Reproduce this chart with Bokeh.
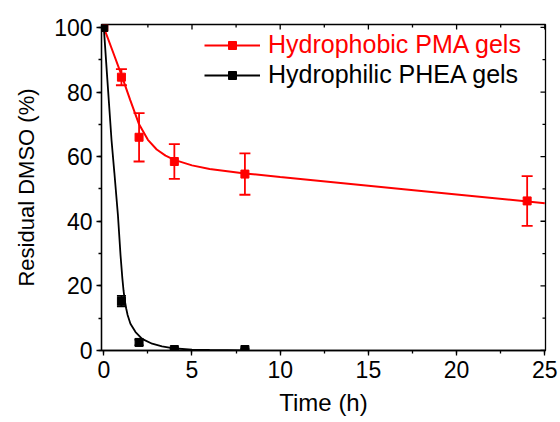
import math
from bokeh.plotting import figure
from bokeh.models import (Range1d, SingleIntervalTicker, Whisker, TeeHead,
                          ColumnDataSource, Legend, LegendItem)
from bokeh.embed import file_html
from bokeh.resources import INLINE

# ---- data ----
pma_time = [0, 1, 2, 4, 8, 24]
pma_vals = [100, 84.6, 66.0, 58.5, 54.6, 46.3]
pma_err = [0, 2.5, 7.5, 5.4, 6.4, 7.7]

phea_time = [0, 1, 2, 4, 8]
phea_vals = [100, 15.3, 2.5, 0.3, 0.3]
phea_err = [0, 1.6, 0.9, 0.3, 0.3]

pma_fit_t = [0, 0.5, 1, 1.5, 2, 2.5, 3, 3.5, 4, 5, 6, 8, 10, 15, 20, 25]
pma_fit_v = [100, 92.7, 85.3, 77.5, 70.0, 65.2, 62.2, 60.3, 59.0, 57.3, 56.2, 54.8, 53.7, 51.0, 48.3, 45.6]

phea_fit_t = [0, 0.2, 0.44, 0.6, 0.8, 0.95, 1.05, 1.12, 1.19, 1.27, 1.35, 1.51, 1.8, 2.17,
              2.74, 3.3, 3.88, 5, 6, 8]
phea_fit_v = [100, 84, 65, 55, 42, 29.4, 22.5, 18.5, 15.5, 13.0, 11.0, 8.3, 5.7, 3.6,
              2.1, 1.3, 0.7, 0.3, 0.15, 0.05]

x_major = [0, 5, 10, 15, 20, 25]
x_minor = [2.5, 7.5, 12.5, 17.5, 22.5]
y_major = [0, 20, 40, 60, 80, 100]
y_minor = [10, 30, 50, 70, 90]

FONT = "Liberation Sans"

X0, X1 = -0.13, 25.04
Y0, Y1 = 0, 100.9

p = figure(width=560, height=422, x_range=Range1d(X0, X1), y_range=Range1d(Y0, Y1),
           output_backend="svg", toolbar_location=None,
           min_border_left=101, min_border_right=15, min_border_top=24, min_border_bottom=72)
p.xgrid.visible = False
p.ygrid.visible = False
p.outline_line_color = "black"
p.outline_line_width = 1.3
p.background_fill_color = "white"
p.border_fill_color = "white"

ax = p.xaxis[0]
ax.ticker = SingleIntervalTicker(interval=5, num_minor_ticks=2)
ax.axis_label = "Time (h)"
ay = p.yaxis[0]
ay.ticker = SingleIntervalTicker(interval=20, num_minor_ticks=2)
ay.axis_label = "Residual DMSO (%)"
for a in (ax, ay):
    a.axis_line_color = "black"
    a.axis_line_width = 1.3
    a.major_tick_line_width = 1.3
    a.minor_tick_line_width = 1.3
    a.major_tick_in = 0
    a.major_tick_out = 5
    a.minor_tick_in = 0
    a.minor_tick_out = 3
    a.major_label_text_font = FONT
    a.major_label_text_font_size = "23px"
    a.major_label_text_color = "black"
    a.axis_label_text_font = FONT
    a.axis_label_text_font_style = "normal"
    a.axis_label_text_color = "black"
ax.axis_label_text_font_size = "24px"
ay.axis_label_text_font_size = "22px"
ax.major_label_standoff = 5
ax.axis_label_standoff = 8
ay.major_label_standoff = 4
ay.axis_label_standoff = 12

# inward ticks on the top and right frame edges
p.scatter(x_major, [Y1] * len(x_major), marker="dash", angle=math.pi / 2, size=10,
          line_color="black", line_width=1.3)
p.scatter(x_minor, [Y1] * len(x_minor), marker="dash", angle=math.pi / 2, size=6,
          line_color="black", line_width=1.3)
p.scatter([X1] * len(y_major), y_major, marker="dash", size=10,
          line_color="black", line_width=1.3)
p.scatter([X1] * len(y_minor), y_minor, marker="dash", size=6,
          line_color="black", line_width=1.3)

# ---- fit curves ----
pma_fit = p.line(pma_fit_t, pma_fit_v, line_color="red", line_width=2)
phea_fit = p.line(phea_fit_t, phea_fit_v, line_color="black", line_width=1.8)

# ---- error bars ----
pma_src = ColumnDataSource(dict(
    x=[t for t, e in zip(pma_time, pma_err) if e > 0],
    upper=[v + e for v, e in zip(pma_vals, pma_err) if e > 0],
    lower=[v - e for v, e in zip(pma_vals, pma_err) if e > 0]))
phea_src = ColumnDataSource(dict(
    x=[t for t, e in zip(phea_time, phea_err) if e > 0],
    upper=[v + e for v, e in zip(phea_vals, phea_err) if e > 0],
    lower=[v - e for v, e in zip(phea_vals, phea_err) if e > 0]))

p.add_layout(Whisker(source=pma_src, base="x", upper="upper", lower="lower",
                     line_color="red", line_width=1.8,
                     upper_head=TeeHead(size=11, line_color="red", line_width=1.8),
                     lower_head=TeeHead(size=11, line_color="red", line_width=1.8)))
p.add_layout(Whisker(source=phea_src, base="x", upper="upper", lower="lower",
                     line_color="black", line_width=1.8,
                     upper_head=TeeHead(size=9, line_color="black", line_width=1.8),
                     lower_head=TeeHead(size=9, line_color="black", line_width=1.8)))

pma_pts = p.scatter(pma_time, pma_vals, marker="square", size=8, fill_color="red", line_color="red")
phea_pts = p.scatter(phea_time, phea_vals, marker="square", size=8, fill_color="black", line_color="black")

# ---- legends ----
leg1 = Legend(items=[LegendItem(label="Hydrophobic PMA gels", renderers=[pma_fit, pma_pts])],
              location=(103, 291))
leg2 = Legend(items=[LegendItem(label="Hydrophilic PHEA gels", renderers=[phea_fit, phea_pts])],
              location=(103, 261))
for lg, col in ((leg1, "red"), (leg2, "black")):
    lg.label_text_color = col
    lg.label_text_font = FONT
    lg.label_text_font_size = "25px"
    lg.glyph_width = 56
    lg.glyph_height = 20
    lg.label_height = 20
    lg.label_standoff = 8
    lg.padding = 0
    lg.margin = 0
    lg.border_line_alpha = 0
    lg.background_fill_alpha = 0
    p.add_layout(lg)

open("out.html", "w").write(file_html(p, INLINE))
